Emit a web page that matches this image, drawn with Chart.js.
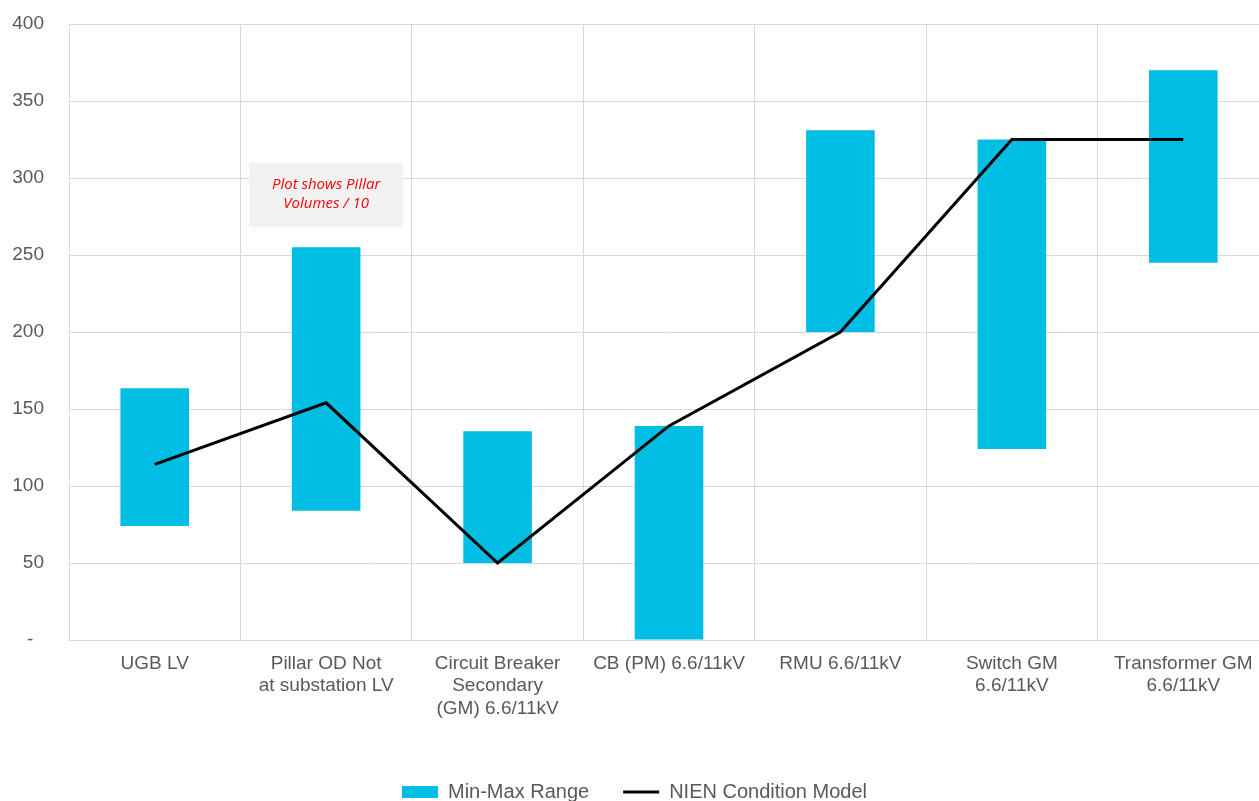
<!DOCTYPE html>
<html>
<head>
<meta charset="utf-8">
<script src="https://cdn.jsdelivr.net/npm/chart.js@4"></script>
<style>
  html, body { margin: 0; padding: 0; background: #fff; overflow: hidden; }
  #wrap { width: 1270px; height: 812px; }
</style>
</head>
<body>
<div id="wrap"><canvas id="c" width="1270" height="812"></canvas></div>
<script>
const categories = [
  'UGB LV',
  ['Pillar OD Not', 'at substation LV'],
  ['Circuit Breaker', 'Secondary', '(GM) 6.6/11kV'],
  'CB (PM) 6.6/11kV',
  'RMU 6.6/11kV',
  ['Switch GM', '6.6/11kV'],
  ['Transformer GM', '6.6/11kV']
];
const rangeMin = [74, 84, 50, 0, 200, 124, 245];
const rangeMax = [163.5, 255, 135.5, 139, 331, 325, 370];
const conditionModel = [114, 154, 50, 139, 200, 325, 325];
const yTicks = [0, 50, 100, 150, 200, 250, 300, 350, 400];
const seriesNames = ['Min-Max Range', 'NIEN Condition Model'];
const noteLines = ['Plot shows Pillar', 'Volumes / 10'];
const noteAnchor = { category: 1, yTop: 310, yBottom: 268 };

const CYAN = '#00BDE3';
const GRID = '#D9D9D9';
const TEXT = '#595959';
const FONT = "'Liberation Sans', Arial, sans-serif";

const notePlugin = {
  id: 'note',
  afterDraw(chart) {
    const { ctx, scales } = chart;
    const cx = scales.x.getPixelForValue(noteAnchor.category);
    const top = scales.y.getPixelForValue(noteAnchor.yTop);
    const bottom = scales.y.getPixelForValue(noteAnchor.yBottom);
    const w = 154;
    ctx.save();
    ctx.fillStyle = '#F2F2F2';
    ctx.fillRect(cx - w / 2, top, w, bottom - top);
    ctx.fillStyle = '#FF0000';
    ctx.font = "italic 15px 'Open Sans', 'Liberation Sans', sans-serif";
    ctx.textAlign = 'center';
    ctx.textBaseline = 'middle';
    const mid = (top + bottom) / 2;
    ctx.fillText(noteLines[0], cx, mid - 10);
    ctx.fillText(noteLines[1], cx, mid + 9);
    ctx.restore();
  }
};

new Chart(document.getElementById('c'), {
  type: 'bar',
  data: {
    labels: categories,
    datasets: [
      {
        type: 'bar',
        label: seriesNames[0],
        data: rangeMin.map((v, i) => [v, rangeMax[i]]),
        backgroundColor: CYAN,
        borderWidth: 0,
        barPercentage: 0.8,
        categoryPercentage: 0.5,
        order: 1
      },
      {
        type: 'line',
        label: seriesNames[1],
        data: conditionModel,
        borderColor: '#000000',
        backgroundColor: '#000000',
        borderWidth: 3,
        pointRadius: 0,
        tension: 0,
        fill: false,
        order: 0
      }
    ]
  },
  options: {
    responsive: false,
    animation: false,
    devicePixelRatio: 1,
    layout: { padding: { top: 24, right: 1, left: 0, bottom: 0 } },
    plugins: {
      tooltip: { enabled: false },
      legend: {
        position: 'bottom',
        labels: {
          font: { family: FONT, size: 20 },
          color: TEXT,
          padding: 34,
          usePointStyle: true,
          pointStyleWidth: 36,
          boxHeight: 12,
          generateLabels() {
            return [
              { text: seriesNames[0], fillStyle: CYAN, strokeStyle: CYAN, lineWidth: 0, pointStyle: 'rect', datasetIndex: 0, fontColor: TEXT },
              { text: seriesNames[1], fillStyle: '#000', strokeStyle: '#000', lineWidth: 3, pointStyle: 'line', datasetIndex: 1, fontColor: TEXT }
            ];
          }
        }
      }
    },
    scales: {
      x: {
        grid: { color: GRID, lineWidth: 1, drawTicks: false, offset: true },
        border: { color: GRID, width: 1 },
        ticks: {
          font: { family: FONT, size: 19, lineHeight: 1.2 },
          color: TEXT,
          padding: 12,
          maxRotation: 0,
          autoSkip: false
        },
        afterFit(scale) { scale.height = 108; }
      },
      y: {
        min: 0,
        max: 400,
        afterBuildTicks(scale) { scale.ticks = yTicks.map(v => ({ value: v })); },
        grid: { color: GRID, lineWidth: 1, drawTicks: false },
        border: { color: GRID, width: 1 },
        ticks: {
          font: { family: FONT, size: 19 },
          color: TEXT,
          padding: 25,
          callback: (v) => (v === 0 ? '-  ' : String(v))
        },
        afterFit(scale) {
          scale.width = 69;
          scale.paddingTop = 12;
          scale.paddingBottom = 12;
        }
      }
    }
  },
  plugins: [notePlugin]
});
</script>
</body>
</html>
